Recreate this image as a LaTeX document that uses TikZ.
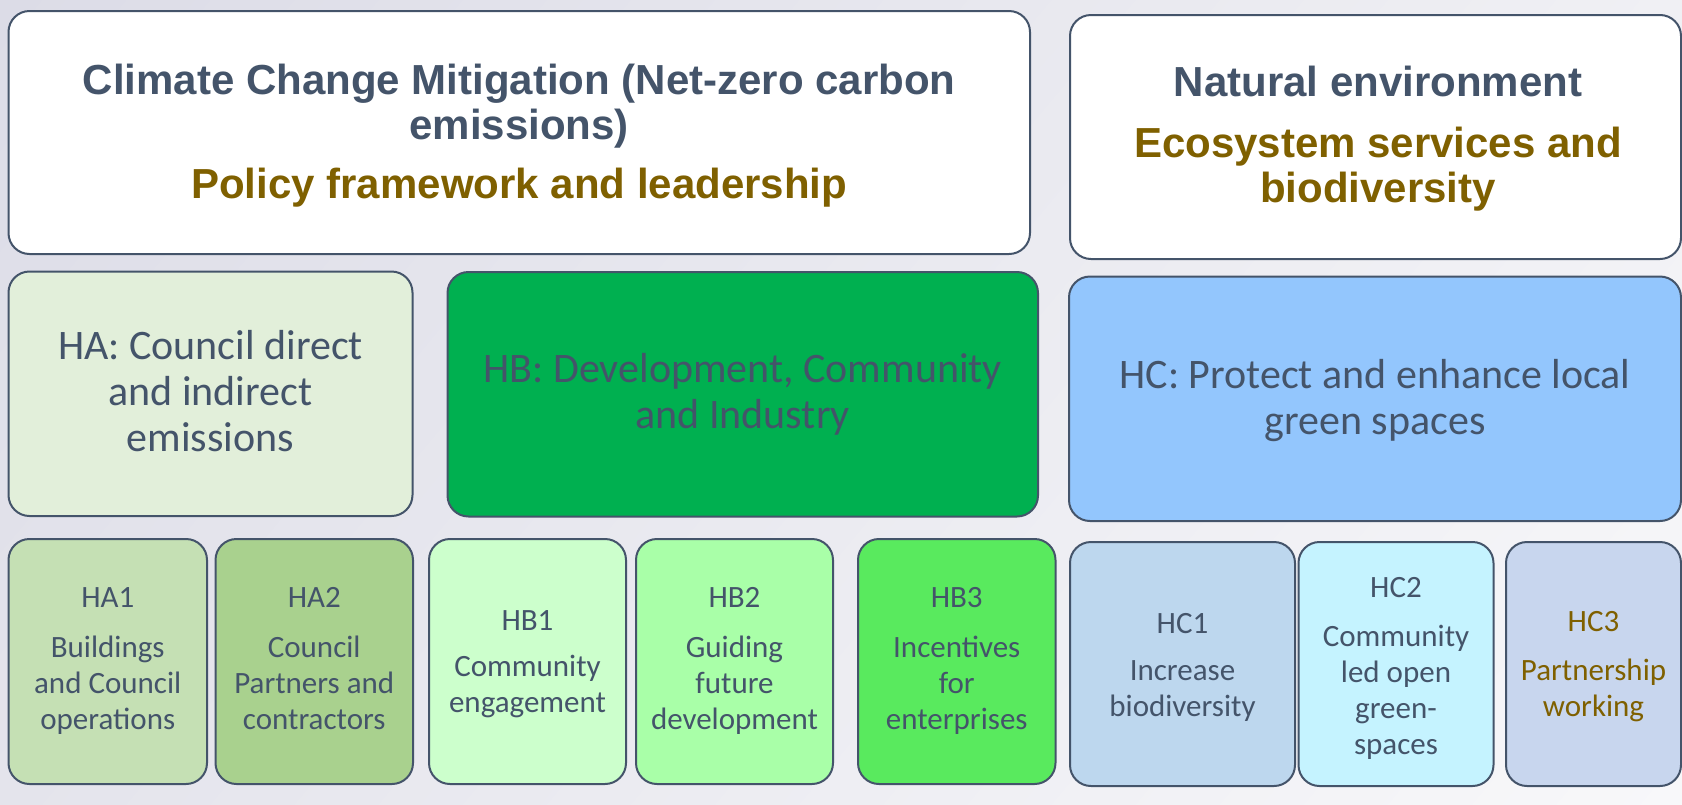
\documentclass[tikz,border=0pt]{standalone}
\usepackage{fontspec}
\usetikzlibrary{shadings}
\setmainfont{Carlito}
\newfontfamily\titlefont{Liberation Sans}
\definecolor{edge}{HTML}{44546A}
\definecolor{slate}{HTML}{44546A}
\definecolor{gold}{HTML}{7F6000}
\definecolor{bgA}{HTML}{DCDCE7}
\definecolor{bgB}{HTML}{F0F0F4}
\definecolor{bgC}{HTML}{E4E4EC}
\definecolor{bgD}{HTML}{F8F8FA}
\definecolor{cHA}{HTML}{E2EFDA}
\definecolor{cHB}{HTML}{00B050}
\definecolor{cHC}{HTML}{93C6FD}
\definecolor{cHAa}{HTML}{C5E0B4}
\definecolor{cHAb}{HTML}{A9D18E}
\definecolor{cHBa}{HTML}{CCFFCC}
\definecolor{cHBb}{HTML}{A9FFA8}
\definecolor{cHBc}{HTML}{59EA5E}
\definecolor{cHCa}{HTML}{BDD7EE}
\definecolor{cHCb}{HTML}{C5F3FF}
\definecolor{cHCc}{HTML}{C8D6EE}
\tikzset{
  box/.style={draw=edge, line width=2pt, rounded corners=21pt, inner sep=0pt, outer sep=0pt},
  txt/.style={align=center, anchor=base, text=slate, inner sep=0pt},
  ttl/.style={txt, font=\titlefont\bfseries\fontsize{42}{45}\selectfont},
  big/.style={txt, font=\fontsize{42}{46}\selectfont},
  sml/.style={txt, font=\fontsize{31}{36}\selectfont},
}
\begin{document}
\begin{tikzpicture}[x=1pt,y=-1pt]
\useasboundingbox (0,0) rectangle (1682,804);
\shade[upper left=bgA, upper right=bgB, lower left=bgC, lower right=bgD] (0,0) rectangle (1682,804);
% top boxes
\node[box, fill=white, minimum width=1021.5pt, minimum height=243pt] (top1) at (519.25,132.5) {};
\node[box, fill=white, minimum width=611pt, minimum height=244pt] (top2) at (1375.5,137) {};
% second row
\node[box, fill=cHA, minimum width=404pt, minimum height=244.5pt] (ha) at (210.5,393.75) {};
\node[box, fill=cHB, minimum width=590.5pt, minimum height=244.5pt] (hb) at (742.75,394.25) {};
\node[box, fill=cHC, minimum width=612pt, minimum height=244.5pt] (hc) at (1375,398.75) {};
% third row
\node[box, fill=cHAa, minimum width=198.5pt, minimum height=245pt] (ha1) at (107.75,661.5) {};
\node[box, fill=cHAb, minimum width=197.5pt, minimum height=245pt] (ha2) at (314.25,661.5) {};
\node[box, fill=cHBa, minimum width=197pt, minimum height=245pt] (hb1) at (527.5,661.5) {};
\node[box, fill=cHBb, minimum width=197pt, minimum height=245pt] (hb2) at (734.5,661.5) {};
\node[box, fill=cHBc, minimum width=197.5pt, minimum height=245pt] (hb3) at (956.75,661.5) {};
\node[box, fill=cHCa, minimum width=225pt, minimum height=244pt] (hc1) at (1182.5,664) {};
\node[box, fill=cHCb, minimum width=195pt, minimum height=244pt] (hc2) at (1396,664) {};
\node[box, fill=cHCc, minimum width=175pt, minimum height=244pt] (hc3) at (1593.5,664) {};
% texts (anchor = baseline of the last line)
\node[ttl] (top1t) at (519.25,198) {Climate Change Mitigation (Net-zero carbon\\emissions)\\[14pt]\color{gold}Policy framework and leadership};
\node[ttl] (top2t) at (1378,202.5) {Natural environment\\[16pt]\color{gold}Ecosystem services and\\\color{gold}biodiversity};
\node[big] (hat) at (210.5,451.5) {HA: Council direct\\and indirect\\emissions};
\node[big] (hbt) at (742.75,428) {HB: Development, Community\\and Industry};
\node[big] (hct) at (1375,434.5) {HC: Protect and enhance local\\green spaces};
\node[sml] (ha1t) at (107.75,729) {HA1\\[14pt]Buildings\\and Council\\operations};
\node[sml] (ha2t) at (314.25,729) {HA2\\[14pt]Council\\Partners and\\contractors};
\node[sml] (hb1t) at (527.5,712) {HB1\\[10pt]Community\\engagement};
\node[sml] (hb2t) at (734.5,729) {HB2\\[14pt]Guiding\\future\\development};
\node[sml] (hb3t) at (956.75,729) {HB3\\[14pt]Incentives\\for\\enterprises};
\node[sml] (hc1t) at (1182.5,716) {HC1\\[11pt]Increase\\biodiversity};
\node[sml] (hc2t) at (1396,754) {HC2\\[13pt]Community\\led open\\green-\\spaces};
\node[sml, text=gold] (hc3t) at (1593.5,716) {HC3\\[13pt]Partnership\\working};
\end{tikzpicture}
\end{document}
